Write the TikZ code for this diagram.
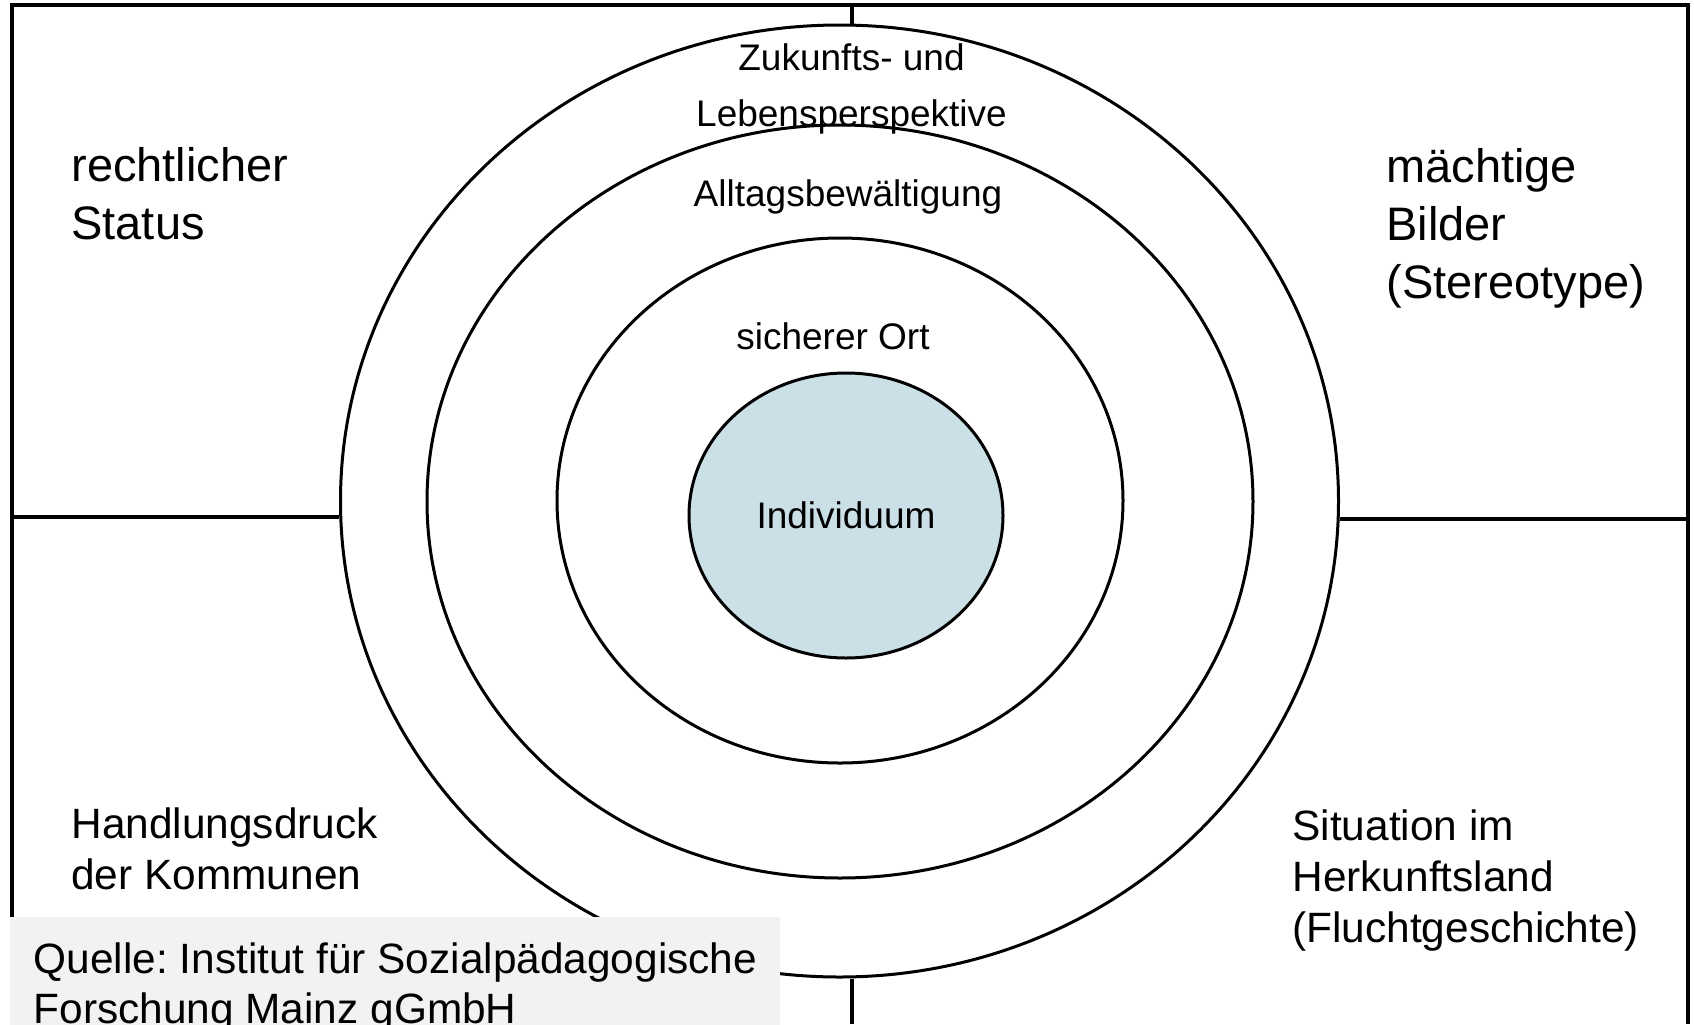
\documentclass[tikz,border=0pt]{standalone}
\usepackage{fontspec}
\setmainfont{Liberation Sans}
\usetikzlibrary{shapes.geometric}
\frenchspacing
\definecolor{kernfill}{HTML}{CBDFE6}
\definecolor{quellfill}{HTML}{F2F2F2}
\tikzset{
  rahmen/.style={line width=1.6pt},
  ring/.style={draw, ellipse, line width=1.5pt, inner sep=0pt},
  kern/.style={ring, fill=kernfill, font=\fontsize{18.5}{22}\selectfont},
  ringtext/.style={font=\fontsize{18.5}{28}\selectfont, align=center, inner sep=0pt},
  bigtext/.style={font=\fontsize{23.5}{29}\selectfont, align=left, inner sep=0pt, anchor=base west},
  midtext/.style={font=\fontsize{21.2}{25.5}\selectfont, align=left, inner sep=0pt, anchor=base west},
  quellbox/.style={fill=quellfill, anchor=north west, align=left, minimum width=385pt,
                   inner xsep=11pt, inner ysep=9.5pt, minimum height=70pt,
                   font=\fontsize{21.2}{25}\selectfont},
}

\begin{document}
\begin{tikzpicture}[x=0.5pt, y=-0.5pt]
    \clip (0,0) rectangle (1694,1024);
    \coordinate (lu) at (12,1024);
    \coordinate (lo) at (12,5);
    \coordinate (ro) at (1688,5);
    \coordinate (ru) at (1688,1024);
    \coordinate (lmitte) at (12,517);
    \coordinate (rmitte) at (1688,519);
    \coordinate (omitte) at (852,5);
    \coordinate (umitte) at (852,1024);
    \draw[rahmen] (lu) -- (lo) -- (ro) -- (ru);
    \node[ring, minimum width=499pt, minimum height=476pt] (aussen) at (839.5,501) {};
    \node[ring, minimum width=413pt, minimum height=376.5pt] (alltag) at (840,501.5) {};
    \node[ring, minimum width=283pt, minimum height=262.5pt] (ort) at (840,500.5) {};
    \node[kern, minimum width=157pt, minimum height=142.5pt] (kern) at (846,515.5) {Individuum};
    \draw[rahmen] (lmitte) -- (aussen.west |- lmitte);
    \draw[rahmen] (rmitte) -- (aussen.east |- rmitte);
    \draw[rahmen] (omitte) -- (omitte |- aussen.north);
    \draw[rahmen] (umitte) -- (umitte |- aussen.south);
    \node[ringtext] (zukunft) at (851.5,89) {Zukunfts- und\\Lebensperspektive};
    \node[ringtext] (bewaelt) at (848,197) {Alltagsbewältigung};
    \node[ringtext] (sicher) at (833,336) {sicherer Ort};
    \node[bigtext] (status) at (71,239) {rechtlicher\\Status};
    \node[bigtext] (bilder) at (1386,298) {mächtige\\Bilder\\(Stereotype)};
    \node[midtext] (druck) at (71,889) {Handlungsdruck\\der Kommunen};
    \node[midtext] (herkunft) at (1292,942) {Situation im\\Herkunftsland\\(Fluchtgeschichte)};
    \node[quellbox] (quelle) at (10,917) {Quelle: Institut für Sozialpädagogische\\Forschung Mainz gGmbH};
\end{tikzpicture}
\end{document}
